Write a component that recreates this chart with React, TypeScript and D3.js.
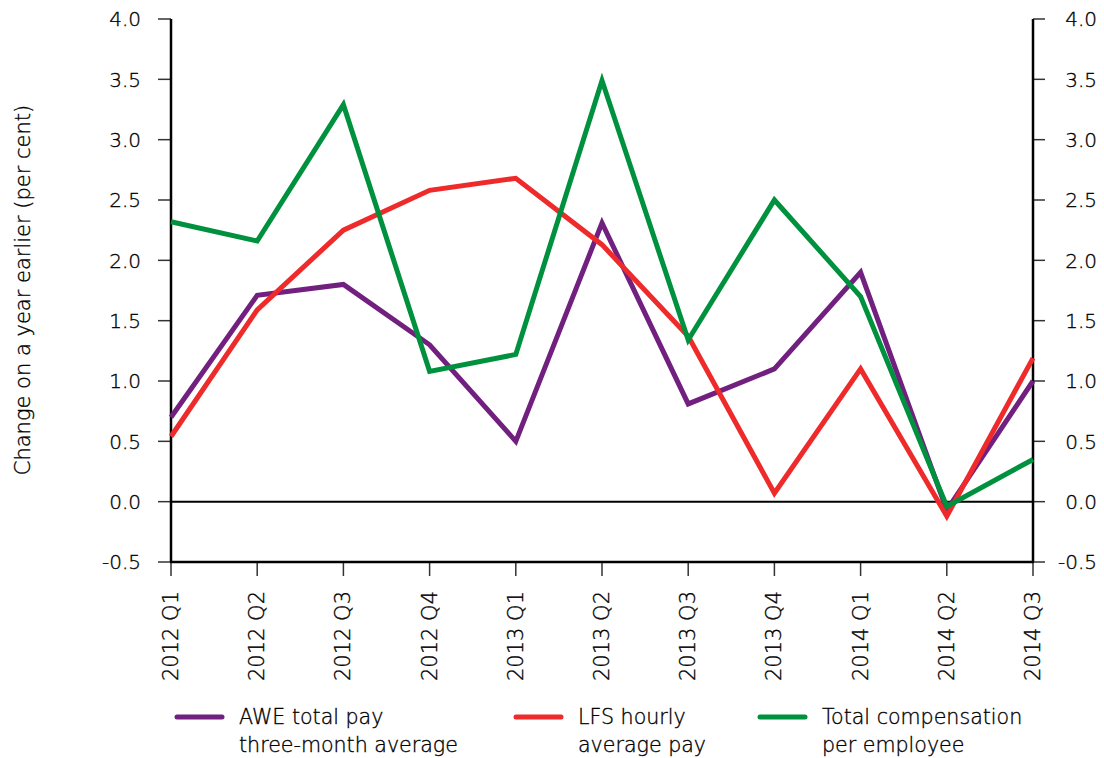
import React from "react";
import * as d3 from "d3";

const categories = ["2012 Q1","2012 Q2","2012 Q3","2012 Q4","2013 Q1","2013 Q2","2013 Q3","2013 Q4","2014 Q1","2014 Q2","2014 Q3"];
const awe = [0.70, 1.71, 1.80, 1.30, 0.50, 2.31, 0.81, 1.10, 1.90, -0.07, 1.00];
const lfs = [0.54, 1.59, 2.25, 2.58, 2.68, 2.13, 1.37, 0.07, 1.10, -0.12, 1.19];
const comp = [2.32, 2.16, 3.29, 1.08, 1.22, 3.49, 1.34, 2.50, 1.70, -0.04, 0.35];
const yTicks = [-0.5, 0, 0.5, 1, 1.5, 2, 2.5, 3, 3.5, 4];
const seriesNames = [["AWE total pay", "three-month average"], ["LFS hourly", "average pay"], ["Total compensation", "per employee"]];
const colors = ["#71207f", "#ee2a2a", "#00913f"];

const W = 1104, H = 758;
const left = 171, right = 1033, top = 19, bottom = 562;
const FONT = "'DejaVu Sans', sans-serif";
const TXT = "#000";
const FW = 300;

export default function App() {
  const x = d3.scalePoint<string>().domain(categories).range([left, right]);
  const y = d3.scaleLinear().domain([-0.5, 4]).range([bottom, top]);
  const line = d3.line<number>().x((_, i) => x(categories[i])!).y(d => y(d));
  const series = [awe, lfs, comp];
  const legendX = [177, 516, 760];
  const textProps = { fontFamily: FONT, fontWeight: FW, fill: TXT, stroke: TXT, strokeWidth: 0.35 };
  return (
    <svg width={W} height={H} style={{ position: "absolute", left: 0, top: 0, background: "#fff" }}>
      {yTicks.map(t => (
        <g key={"l" + t}>
          <line x1={158} x2={left} y1={y(t)} y2={y(t)} stroke="#333" strokeWidth={1.5} />
          <text x={141} y={y(t)} dy="0.36em" textAnchor="end" fontSize={20} {...textProps}>{t.toFixed(1)}</text>
          <line x1={right} x2={1045} y1={y(t)} y2={y(t)} stroke="#333" strokeWidth={1.5} />
          <text x={1097} y={y(t)} dy="0.36em" textAnchor="end" fontSize={20} {...textProps}>{t.toFixed(1)}</text>
        </g>
      ))}
      {categories.map(c => (
        <g key={c}>
          <line x1={x(c)!} x2={x(c)!} y1={bottom} y2={576} stroke="#333" strokeWidth={1.5} />
          <text transform={`translate(${x(c)! + 7},591) rotate(-90)`} textAnchor="end" fontSize={21} {...textProps}>{c}</text>
        </g>
      ))}
      <line x1={left} x2={right} y1={y(0)} y2={y(0)} stroke="#000" strokeWidth={2} />
      <line x1={left} x2={left} y1={top} y2={bottom} stroke="#000" strokeWidth={2.5} />
      <line x1={right} x2={right} y1={top} y2={bottom} stroke="#000" strokeWidth={2.5} />
      <line x1={left - 1} x2={right + 1} y1={bottom} y2={bottom} stroke="#000" strokeWidth={2.5} />
      {series.map((s, i) => (
        <path key={i} d={line(s)!} fill="none" stroke={colors[i]} strokeWidth={5} strokeLinejoin="miter" />
      ))}
      <text transform="translate(30,290) rotate(-90)" textAnchor="middle" fontSize={21} {...textProps}>Change on a year earlier (per cent)</text>
      {seriesNames.map((n, i) => (
        <g key={i}>
          <line x1={legendX[i]} x2={legendX[i] + 45} y1={717} y2={717} stroke={colors[i]} strokeWidth={5} strokeLinecap="round" />
          <text x={legendX[i] + 62} y={724} fontSize={20.6} {...textProps}>{n[0]}</text>
          <text x={legendX[i] + 62} y={752} fontSize={20.6} {...textProps}>{n[1]}</text>
        </g>
      ))}
    </svg>
  );
}
